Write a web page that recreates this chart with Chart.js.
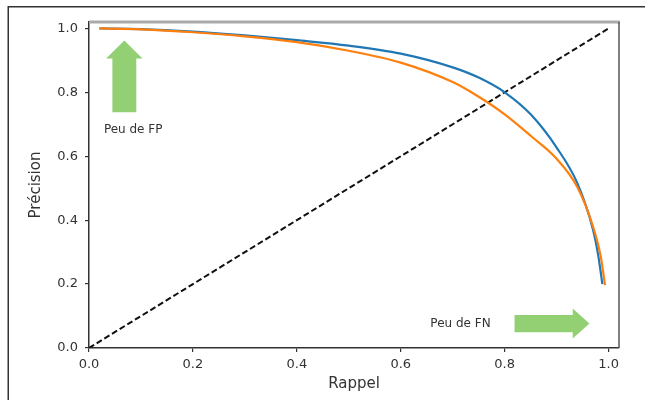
<!DOCTYPE html>
<html>
<head>
<meta charset="utf-8">
<script src="https://cdn.jsdelivr.net/npm/chart.js@4"></script>
<style>
  html, body { margin: 0; padding: 0; background: #fff; }
  #wrap { width: 645px; height: 400px; position: relative; }
</style>
</head>
<body>
<div id="wrap"><canvas id="c" width="645" height="400"></canvas></div>
<script>
// ---- data ----
const recallBlue    = [0.02, 0.10, 0.20, 0.30, 0.40, 0.50, 0.60, 0.70, 0.75, 0.80, 0.85, 0.90, 0.94, 0.97, 0.98, 0.988];
const precisionBlue = [1.00, 0.998, 0.990, 0.978, 0.963, 0.946, 0.921, 0.878, 0.846, 0.800, 0.731, 0.627, 0.515, 0.370, 0.290, 0.200];
const recallOrange    = [0.02, 0.10, 0.20, 0.30, 0.40, 0.50, 0.60, 0.70, 0.75, 0.80, 0.85, 0.90, 0.94, 0.97, 0.985, 0.993];
const precisionOrange = [1.00, 0.997, 0.988, 0.975, 0.957, 0.930, 0.893, 0.832, 0.786, 0.731, 0.664, 0.592, 0.503, 0.380, 0.285, 0.197];
const diagRecall    = [0, 1];
const diagPrecision = [0, 1];
const tickValues = [0, 0.2, 0.4, 0.6, 0.8, 1.0];
const xLabel = 'Rappel';
const yLabel = 'Précision';
const noteFP = 'Peu de FP';
const noteFN = 'Peu de FN';

// annotation anchors in data units
const arrowFP = { x: 0.068, tipY: 0.9625, headBaseY: 0.906, tailY: 0.7375, headHalf: 0.035, shaftHalf: 0.023 };
const arrowFN = { y: 0.0766, tipX: 0.963, headBaseX: 0.931, tailX: 0.819, headHalf: 0.047, shaftHalf: 0.027 };
const textFP = { x: 0.085, y: 0.681 };
const textFN = { x: 0.715, y: 0.075 };

const toPts = (xs, ys) => xs.map((x, i) => ({ x: x, y: ys[i] }));

const FONT = "'DejaVu Sans', sans-serif";

const decor = {
  id: 'decor',
  beforeDraw(chart) {
    const ctx = chart.ctx;
    ctx.save();
    ctx.fillStyle = '#fff';
    ctx.fillRect(0, 0, chart.width, chart.height);
    ctx.restore();
  },
  afterDatasetsDraw(chart) {
    const ctx = chart.ctx;
    const xs = chart.scales.x, ys = chart.scales.y;
    const X = v => xs.getPixelForValue(v), Y = v => ys.getPixelForValue(v);
    ctx.save();
    ctx.fillStyle = 'rgba(138, 204, 104, 0.92)';
    // FP arrow (up)
    const a = arrowFP;
    ctx.beginPath();
    ctx.moveTo(X(a.x), Y(a.tipY));
    ctx.lineTo(X(a.x + a.headHalf), Y(a.headBaseY));
    ctx.lineTo(X(a.x + a.shaftHalf), Y(a.headBaseY));
    ctx.lineTo(X(a.x + a.shaftHalf), Y(a.tailY));
    ctx.lineTo(X(a.x - a.shaftHalf), Y(a.tailY));
    ctx.lineTo(X(a.x - a.shaftHalf), Y(a.headBaseY));
    ctx.lineTo(X(a.x - a.headHalf), Y(a.headBaseY));
    ctx.closePath();
    ctx.fill();
    // FN arrow (right)
    const b = arrowFN;
    ctx.beginPath();
    ctx.moveTo(X(b.tipX), Y(b.y));
    ctx.lineTo(X(b.headBaseX), Y(b.y + b.headHalf));
    ctx.lineTo(X(b.headBaseX), Y(b.y + b.shaftHalf));
    ctx.lineTo(X(b.tailX), Y(b.y + b.shaftHalf));
    ctx.lineTo(X(b.tailX), Y(b.y - b.shaftHalf));
    ctx.lineTo(X(b.headBaseX), Y(b.y - b.shaftHalf));
    ctx.lineTo(X(b.headBaseX), Y(b.y - b.headHalf));
    ctx.closePath();
    ctx.fill();
    // notes
    ctx.fillStyle = '#333';
    ctx.font = '12px ' + FONT;
    ctx.textAlign = 'center';
    ctx.textBaseline = 'middle';
    ctx.fillText(noteFP, X(textFP.x), Y(textFP.y));
    ctx.fillText(noteFN, X(textFN.x), Y(textFN.y));
    ctx.restore();
  },
  afterDraw(chart) {
    const ctx = chart.ctx;
    const ca = chart.chartArea;
    ctx.save();
    // top spine
    ctx.strokeStyle = '#aaa';
    ctx.lineWidth = 3;
    ctx.beginPath();
    ctx.moveTo(ca.left, ca.top);
    ctx.lineTo(ca.right + 1, ca.top);
    ctx.stroke();
    // right spine
    ctx.strokeStyle = '#555';
    ctx.lineWidth = 1.5;
    ctx.beginPath();
    ctx.moveTo(ca.right, ca.top);
    ctx.lineTo(ca.right, ca.bottom);
    ctx.stroke();
    // outer frame (top & left)
    ctx.strokeStyle = '#333';
    ctx.lineWidth = 1.5;
    ctx.beginPath();
    ctx.moveTo(645, 6.75);
    ctx.lineTo(8.25, 6.75);
    ctx.lineTo(8.25, 400);
    ctx.stroke();
    ctx.restore();
  }
};

const axisCommon = {
  type: 'linear',
  min: 0,
  max: 1.02,
  grid: { drawOnChartArea: false, drawTicks: true, tickLength: 4, color: '#333', lineWidth: 1.2 },
  border: { display: true, color: '#333', width: 1.5 },
  afterBuildTicks(scale) { scale.ticks = tickValues.map(v => ({ value: v })); },
};

new Chart(document.getElementById('c'), {
  type: 'scatter',
  data: {
    datasets: [
      { data: toPts(diagRecall, diagPrecision), showLine: true, borderColor: '#111', borderWidth: 2, borderDash: [6, 3], pointRadius: 0, order: 3 },
      { data: toPts(recallBlue, precisionBlue), showLine: true, borderColor: '#1f77b4', borderWidth: 2.2, pointRadius: 0, cubicInterpolationMode: 'monotone', order: 2 },
      { data: toPts(recallOrange, precisionOrange), showLine: true, borderColor: '#ff7f0e', borderWidth: 2.2, pointRadius: 0, cubicInterpolationMode: 'monotone', order: 1 },
    ]
  },
  options: {
    responsive: false,
    animation: false,
    devicePixelRatio: 1,
    layout: { padding: { top: 22, right: 26, left: 0, bottom: 0 } },
    plugins: { legend: { display: false }, tooltip: { enabled: false } },
    scales: {
      x: Object.assign({}, axisCommon, {
        position: 'bottom',
        ticks: { font: { family: FONT, size: 13 }, color: '#333', padding: 5, callback: v => v.toFixed(1) },
        title: { display: true, text: xLabel, font: { family: FONT, size: 15 }, color: '#333', padding: { top: 0, bottom: 7 } },
        afterFit(scale) { scale.height = 52; }
      }),
      y: Object.assign({}, axisCommon, {
        position: 'left',
        ticks: { font: { family: FONT, size: 13 }, color: '#333', padding: 7, callback: v => v.toFixed(1) },
        title: { display: true, text: yLabel, font: { family: FONT, size: 15 }, color: '#333', padding: { top: 27, bottom: 0 } },
        afterFit(scale) { scale.width = 89; }
      })
    }
  },
  plugins: [decor]
});
</script>
</body>
</html>
